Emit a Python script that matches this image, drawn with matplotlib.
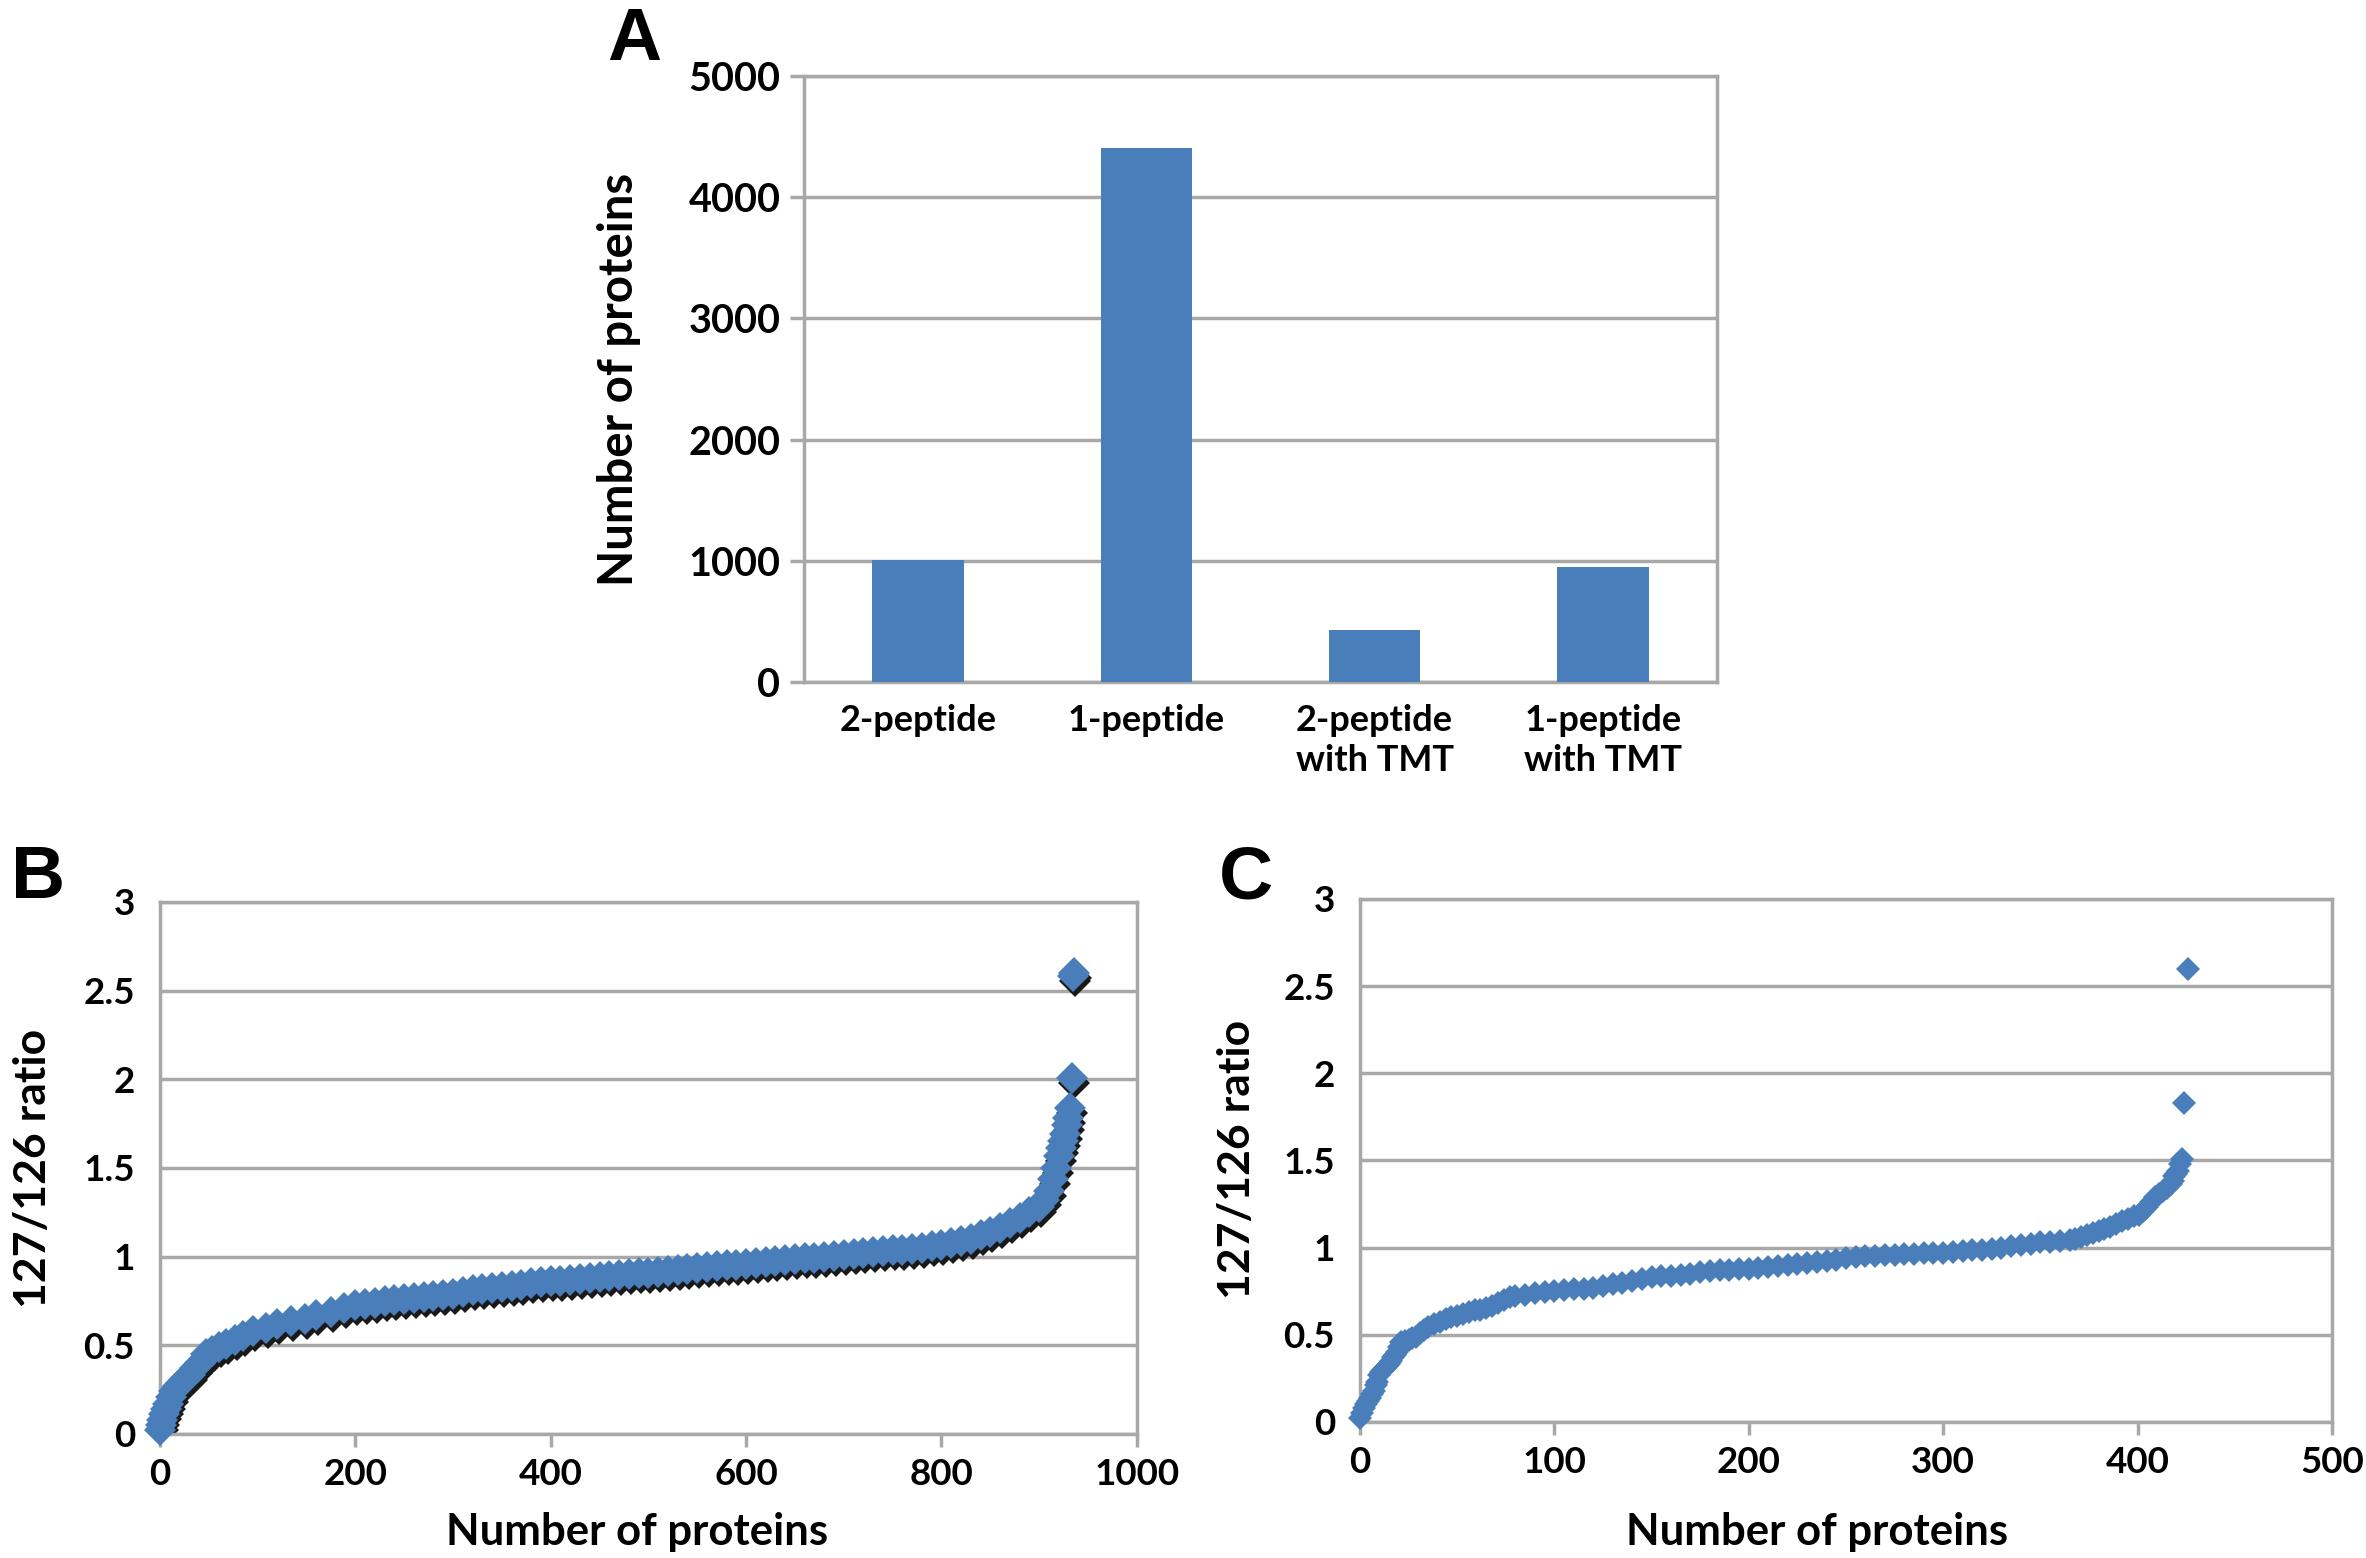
import matplotlib
matplotlib.use('Agg')
import matplotlib.pyplot as plt
from matplotlib.transforms import offset_copy
from matplotlib.ticker import FuncFormatter

# panel A
categories = ['2-peptide', '1-peptide', '2-peptide\nwith TMT', '1-peptide\nwith TMT']
protein_counts = [1010, 4405, 426, 949]

# panel B (sorted 127/126 ratios)
b_rank = [0, 1, 2, 4, 6, 8, 11, 14, 18, 22, 26, 31, 36, 41, 47, 53, 60, 68, 77, 85,
          95, 109, 120, 134, 148, 160, 175, 188, 200, 210, 220, 230, 240, 250, 260,
          270, 280, 290, 300, 310, 320, 330, 340, 350, 360, 370, 380, 390, 400, 410,
          420, 430, 440, 450, 460, 470, 480, 490, 500, 510, 520, 530, 540, 550, 560,
          570, 580, 590, 600, 610, 620, 630, 640, 650, 660, 670, 680, 690, 700, 710,
          720, 730, 740, 750, 760, 770, 780, 790, 800, 810, 820, 830, 840, 850, 860,
          870, 880, 890, 900, 905, 910, 914, 917, 920, 922, 924, 926, 928, 930, 932,
          934, 935, 936]
b_ratio = [0.02, 0.05, 0.08, 0.11, 0.14, 0.17, 0.21, 0.24, 0.27, 0.29, 0.31, 0.33, 0.37,
           0.40, 0.45, 0.47, 0.49, 0.51, 0.53, 0.55, 0.58, 0.60, 0.62, 0.635, 0.65, 0.67,
           0.69, 0.71, 0.73, 0.735, 0.74, 0.75, 0.755, 0.76, 0.765, 0.77, 0.78, 0.785,
           0.79, 0.80, 0.81, 0.82, 0.825, 0.83, 0.835, 0.84, 0.85, 0.855, 0.86, 0.865,
           0.87, 0.875, 0.88, 0.885, 0.89, 0.895, 0.90, 0.905, 0.91, 0.915, 0.92, 0.925,
           0.93, 0.935, 0.94, 0.945, 0.95, 0.955, 0.96, 0.965, 0.97, 0.975, 0.98, 0.985,
           0.99, 0.995, 1.00, 1.005, 1.01, 1.015, 1.02, 1.025, 1.03, 1.035, 1.04, 1.045,
           1.05, 1.06, 1.065, 1.075, 1.09, 1.10, 1.12, 1.14, 1.16, 1.19, 1.22, 1.25, 1.28,
           1.32, 1.37, 1.44, 1.50, 1.57, 1.61, 1.65, 1.69, 1.74, 1.78, 1.84, 2.01, 2.58,
           2.60]

# panel C
c_rank = [0, 1, 2, 3, 4, 5, 6, 7, 8, 9, 10, 11, 12, 13, 14, 15, 16, 17, 18, 19, 20, 21,
          23, 25, 27, 29, 31, 33, 35, 38, 41, 44, 47, 50, 53, 56, 59, 62, 65, 68, 71, 74,
          77, 80, 85, 90, 95, 100, 105, 110, 115, 120, 125, 130, 135, 140, 145, 150, 155,
          160, 165, 170, 175, 180, 185, 190, 195, 200, 205, 210, 215, 220, 225, 230, 235,
          240, 245, 250, 255, 260, 265, 270, 275, 280, 285, 290, 295, 300, 305, 310, 315,
          320, 325, 330, 335, 340, 345, 350, 355, 360, 365, 368, 371, 374, 377, 380, 383,
          386, 389, 392, 395, 398, 401, 403, 405, 407, 409, 411, 413, 415, 417, 418, 419,
          420, 421, 422, 423, 424, 426]
c_ratio = [0.02, 0.05, 0.08, 0.105, 0.12, 0.14, 0.16, 0.18, 0.21, 0.23, 0.27, 0.285, 0.30,
           0.31, 0.32, 0.335, 0.35, 0.37, 0.385, 0.40, 0.43, 0.46, 0.465, 0.47, 0.48, 0.49,
           0.51, 0.53, 0.545, 0.56, 0.575, 0.59, 0.60, 0.61, 0.62, 0.63, 0.64, 0.645, 0.655,
           0.665, 0.68, 0.70, 0.715, 0.725, 0.73, 0.74, 0.745, 0.75, 0.755, 0.76, 0.765,
           0.77, 0.78, 0.79, 0.80, 0.81, 0.82, 0.83, 0.835, 0.84, 0.845, 0.85, 0.86, 0.865,
           0.87, 0.87, 0.875, 0.88, 0.885, 0.89, 0.895, 0.90, 0.905, 0.91, 0.915, 0.925,
           0.93, 0.94, 0.945, 0.95, 0.95, 0.955, 0.958, 0.962, 0.965, 0.968, 0.97, 0.972,
           0.977, 0.982, 0.985, 0.988, 0.992, 1.00, 1.008, 1.015, 1.022, 1.03, 1.035, 1.04,
           1.045, 1.05, 1.06, 1.07, 1.085, 1.095, 1.105, 1.12, 1.135, 1.15, 1.165, 1.18,
           1.19, 1.21, 1.235, 1.26, 1.29, 1.31, 1.325, 1.34, 1.365, 1.38, 1.41, 1.425, 1.44,
           1.48, 1.51, 1.83, 2.60]

BLUE = '#4a7ebb'
GRID = '#a8a8a8'
FONT = 'Lato'

plt.rcParams['font.family'] = [FONT, 'DejaVu Sans']
plt.rcParams['font.weight'] = 'bold'

fig = plt.figure(figsize=(23.66, 15.58), dpi=100)


def excel_frame(ax):
    for s in ax.spines.values():
        s.set_color(GRID)
        s.set_linewidth(2.5)
    ax.yaxis.grid(True, color=GRID, linewidth=2.5)
    ax.set_axisbelow(True)
    for lab in ax.get_xticklabels() + ax.get_yticklabels():
        lab.set_fontweight('bold')


# ---- A: bar chart
axA = fig.add_axes([0.3398, 0.5623, 0.3859, 0.3890])
axA.bar(range(len(categories)), protein_counts, width=0.4, color=BLUE, zorder=3)
axA.set_xlim(-0.5, 3.5)
axA.set_ylim(0, 5000)
axA.set_yticks(range(0, 5001, 1000))
axA.set_xticks(range(len(categories)))
axA.set_xticklabels(categories, linespacing=1.25)
axA.tick_params(axis='y', labelsize=28.5, length=10, width=2.5, color=GRID, pad=7)
axA.tick_params(axis='x', labelsize=26, length=0, pad=16)
excel_frame(axA)
fig.text(0.2616, 0.7567, 'Number of proteins', rotation=90, ha='center', va='center',
         fontsize=34, fontweight='bold')
fig.text(0.268, 0.9615, 'A', fontsize=54, fontweight='bold', family='Liberation Sans',
         ha='center', va='baseline')

fmt = FuncFormatter(lambda v, p: '%g' % v)


def scatter_panel(rect, ranks, ratios, xmax, xstep, msize, shadow):
    ax = fig.add_axes(rect)
    if shadow:
        tr = offset_copy(ax.transData, fig=fig, x=2, y=-5, units='dots')
        ax.plot(ranks, ratios, linestyle='none', marker='D', markersize=msize,
                color='#1a1a1a', markeredgewidth=0, transform=tr, zorder=2)
    ax.plot(ranks, ratios, linestyle='none', marker='D', markersize=msize,
            color=BLUE, markeredgewidth=0, zorder=3, clip_on=False)
    ax.set_xlim(0, xmax)
    ax.set_ylim(0, 3)
    ax.set_xticks(range(0, xmax + 1, xstep))
    ax.set_yticks([0, 0.5, 1, 1.5, 2, 2.5, 3])
    ax.yaxis.set_major_formatter(fmt)
    ax.tick_params(axis='y', labelsize=26.5, length=0, pad=18)
    ax.tick_params(axis='x', labelsize=26.5, length=9, width=2.5, color=GRID,
                   direction='out', pad=8)
    excel_frame(ax)
    return ax


axB = scatter_panel([0.0676, 0.0796, 0.4129, 0.3415], b_rank, b_ratio, 1000, 200, 16, True)
axC = scatter_panel([0.5748, 0.0873, 0.4108, 0.3357], c_rank, c_ratio, 500, 100, 12.5, False)

fig.text(0.0139, 0.2503, '127/126 ratio', rotation=90, ha='center', va='center',
         fontsize=32, fontweight='bold')
fig.text(0.5228, 0.2555, '127/126 ratio', rotation=90, ha='center', va='center',
         fontsize=32, fontweight='bold')
fig.text(0.2692, 0.0167, 'Number of proteins', ha='center', va='center',
         fontsize=31.5, fontweight='bold')
fig.text(0.768, 0.0167, 'Number of proteins', ha='center', va='center',
         fontsize=31.5, fontweight='bold')
fig.text(0.016, 0.4236, 'B', fontsize=54, fontweight='bold', family='Liberation Sans',
         ha='center', va='baseline')
fig.text(0.5266, 0.4236, 'C', fontsize=54, fontweight='bold', family='Liberation Sans',
         ha='center', va='baseline')

fig.savefig('out.png', dpi=100, facecolor='white')
